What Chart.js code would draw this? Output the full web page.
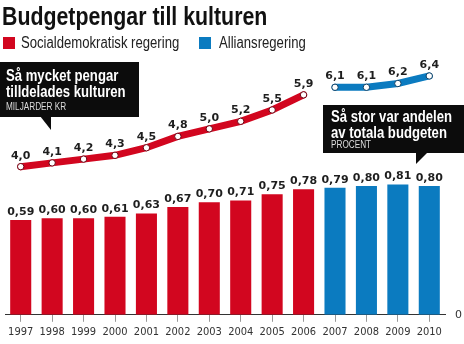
<!DOCTYPE html>
<html>
<head>
<meta charset="utf-8">
<script src="https://cdn.jsdelivr.net/npm/chart.js@4"></script>
<style>
  body { margin: 0; background: #fff; }
  #chart { display: block; }
</style>
</head>
<body>
<canvas id="chart" width="464" height="344"></canvas>
<script>
// data
const years = ['1997', '1998', '1999', '2000', '2001', '2002', '2003', '2004', '2005', '2006', '2007', '2008', '2009', '2010']
// miljarder kr
const budgetSoc = [4.0, 4.1, 4.2, 4.3, 4.5, 4.8, 5.0, 5.2, 5.5, 5.9, null, null, null, null]
const budgetAll = [null, null, null, null, null, null, null, null, null, null, 6.1, 6.1, 6.2, 6.4]
// procent av totala budgeten
const share = [0.59, 0.60, 0.60, 0.61, 0.63, 0.67, 0.70, 0.71, 0.75, 0.78, 0.79, 0.80, 0.81, 0.80]
const government = ['s', 's', 's', 's', 's', 's', 's', 's', 's', 's', 'a', 'a', 'a', 'a']
const legendNames = ['Socialdemokratisk regering', 'Alliansregering']
const title = 'Budgetpengar till kulturen'

const RED = '#d2061f'
const BLUE = '#0b7bc0'
const SANS = '"Liberation Sans", Arial, sans-serif'

// no condensed font installed, so squeeze the text a bit
narrowText = (ctx, txt, x, y) => {
    ctx.save()
    ctx.translate(x, y)
    ctx.scale(0.82, 1)
    ctx.fillText(txt, 0, 0)
    ctx.restore()
}

//numbers above bars and points
const valueLabels = {
    id: 'valueLabels',
    afterDatasetsDraw(chart) {
        const ctx = chart.ctx
        ctx.save()
        ctx.font = 'bold 11px "DejaVu Sans"'
        ctx.fillStyle = '#1e1e1e'
        ctx.textAlign = 'center'
        ctx.textBaseline = 'middle'
        chart.data.datasets.forEach((ds, i) => {
            const meta = chart.getDatasetMeta(i)
            meta.data.forEach((el, j) => {
                const v = ds.data[j]
                if (v == null) return
                const isBar = ds.type === 'bar'
                const txt = (isBar ? v.toFixed(2) : v.toFixed(1)).replace('.', ',')
                ctx.fillText(txt, el.x, el.y - (isBar ? 8 : 11))
            })
        })
        ctx.restore()
    }
}

//title, legend and the two black boxes
const extras = {
    id: 'extras',
    afterDraw(chart) {
        const ctx = chart.ctx
        ctx.save()
        ctx.textBaseline = 'alphabetic'
        ctx.textAlign = 'left'
        // title
        ctx.fillStyle = '#111'
        ctx.font = 'bold 26px ' + SANS
        narrowText(ctx, title, 2, 25)
        // legend
        ctx.font = '16px ' + SANS
        ctx.fillStyle = RED
        ctx.fillRect(3, 37, 12, 12)
        ctx.fillStyle = BLUE
        ctx.fillRect(199, 37, 12, 12)
        ctx.fillStyle = '#222'
        narrowText(ctx, legendNames[0], 21, 48)
        narrowText(ctx, legendNames[1], 219, 48)

        // left box
        ctx.fillStyle = '#0c0c0c'
        ctx.fillRect(0, 62, 139, 55)
        ctx.beginPath()
        ctx.moveTo(40, 116)
        ctx.lineTo(51, 116)
        ctx.lineTo(51, 130)
        ctx.closePath()
        ctx.fill()
        // right box
        ctx.fillRect(323, 105, 141, 48)
        ctx.beginPath()
        ctx.moveTo(416, 152)
        ctx.lineTo(428, 152)
        ctx.lineTo(416, 164)
        ctx.closePath()
        ctx.fill()

        ctx.fillStyle = '#fff'
        ctx.font = 'bold 16px ' + SANS
        narrowText(ctx, 'Så mycket pengar', 6, 81)
        narrowText(ctx, 'tilldelades kulturen', 6, 97)
        narrowText(ctx, 'Så stor var andelen', 331, 122)
        narrowText(ctx, 'av totala budgeten', 331, 138)
        ctx.fillStyle = '#ddd'
        ctx.font = '10px ' + SANS
        narrowText(ctx, 'MILJARDER KR', 6, 110)
        narrowText(ctx, 'PROCENT', 331, 148)
        ctx.restore()
    }
}

const config = {
    data: {
        labels: years,
        datasets: [{
            type: 'line',
            data: budgetSoc,
            yAxisID: 'y2',
            borderColor: RED,
            borderWidth: 7,
            borderCapStyle: 'round',
            pointRadius: 3.2,
            pointBackgroundColor: '#fff',
            pointBorderColor: '#6d0010',
            pointBorderWidth: 1,
            spanGaps: false,
            order: 0
        }, {
            type: 'line',
            data: budgetAll,
            yAxisID: 'y2',
            borderColor: BLUE,
            borderWidth: 7,
            borderCapStyle: 'round',
            pointRadius: 3.2,
            pointBackgroundColor: '#fff',
            pointBorderColor: '#0a3f66',
            pointBorderWidth: 1,
            spanGaps: false,
            order: 0
        }, {
            type: 'bar',
            data: share,
            yAxisID: 'y',
            backgroundColor: government.map(g => g === 's' ? RED : BLUE),
            barPercentage: 0.67,
            categoryPercentage: 1,
            order: 1
        }]
    },
    options: {
        responsive: false,
        animation: false,
        devicePixelRatio: 1,
        layout: { padding: { left: 1, right: 0, top: 65, bottom: 1 } },
        plugins: {
            legend: { display: false },
            tooltip: { enabled: false },
            title: { display: false }
        },
        scales: {
            x: {
                offset: true,
                grid: { display: true, drawOnChartArea: false, offset: false, tickLength: 7, color: '#999' },
                border: { display: true, color: '#333', width: 1 },
                ticks: { color: '#333', padding: 4, font: { family: 'DejaVu Sans Condensed', size: 11 }, maxRotation: 0, autoSkip: false }
            },
            y: {
                position: 'right',
                min: 0,
                max: 1.553,
                grid: { display: false },
                border: { display: false },
                afterBuildTicks: axis => { axis.ticks = [{ value: 0 }] },
                ticks: { color: '#333', padding: 2, font: { family: 'DejaVu Sans', size: 11 } }
            },
            y2: {
                display: false,
                min: 0.08,
                max: 6.69
            }
        }
    },
    plugins: [valueLabels, extras]
}

document.addEventListener('DOMContentLoaded', () => {
    new Chart(document.querySelector('#chart'), config)
})
</script>
</body>
</html>
